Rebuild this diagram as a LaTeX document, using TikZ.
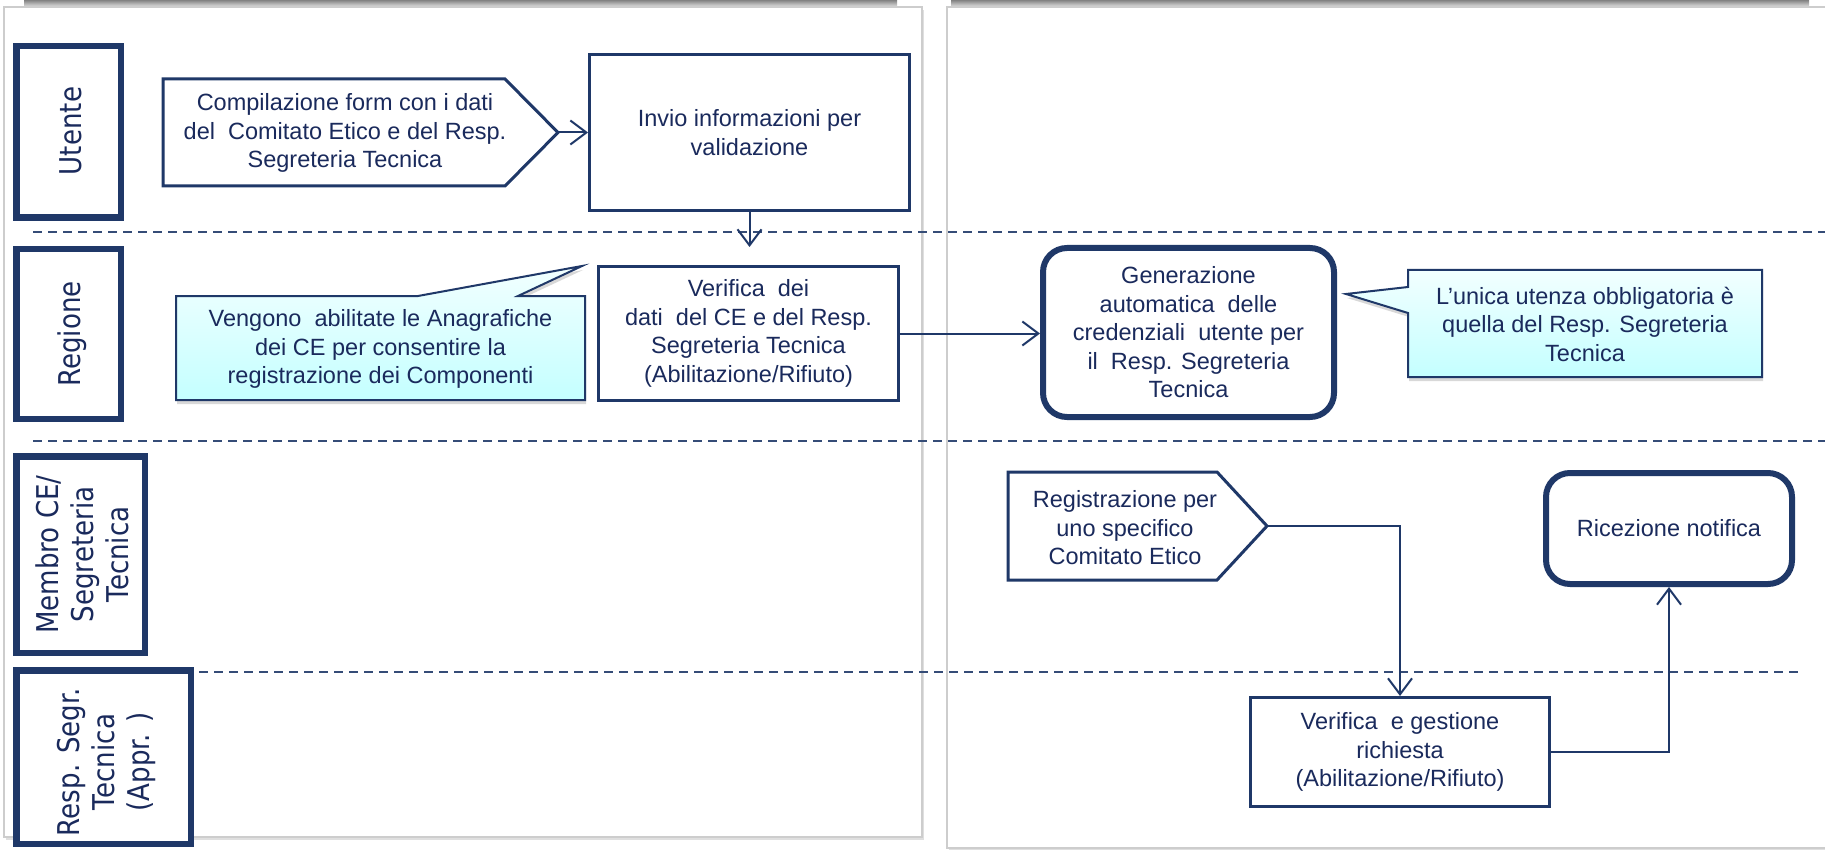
\documentclass[tikz,border=0pt]{standalone}
\usepackage{fontspec}
\setmainfont{Liberation Sans}
\newfontfamily\lanefont{DejaVu Sans}[FakeStretch=0.87]
\usetikzlibrary{arrows.meta,shadows}
\definecolor{navy}{RGB}{31,56,104}
\definecolor{ink}{RGB}{26,42,92}
\definecolor{notetop}{RGB}{242,255,255}
\definecolor{notebot}{RGB}{196,255,255}
\definecolor{panelline}{RGB}{205,205,205}
\begin{document}
\begin{tikzpicture}[x=1pt,y=-1pt,
  panel/.style={fill=white, draw=panelline, line width=1.5pt,
    drop shadow={shadow xshift=2pt, shadow yshift=-3pt, opacity=0.25}},
  topbar/.style={top color=black!60, bottom color=white},
  lanebox/.style={draw=navy, line width=6.5pt, fill=white, inner sep=0pt},
  lanetext/.style={rotate=90, text=ink, inner sep=0pt, align=center,
    font=\lanefont\fontsize{30}{35}\selectfont},
  lanesep/.style={draw=navy!90, line width=2pt, dash pattern=on 9pt off 6pt},
  txt/.style={text=ink, inner sep=0pt, align=center,
    font=\fontsize{23.5}{28.5}\selectfont},
  proc/.style={txt, draw=navy, line width=3pt, fill=white},
  term/.style={txt, draw=navy, line width=6pt, fill=white, rounded corners=24pt},
  shapeline/.style={draw=navy, line width=3pt, fill=white, line join=miter},
  note/.style={top color=notetop, bottom color=notebot, draw=navy, line width=2pt,
    drop shadow={shadow xshift=1pt, shadow yshift=-4pt, opacity=0.3}},
  conn/.style={draw=navy, line width=2pt, -{Straight Barb[length=16pt,width=24pt]}}
]
\useasboundingbox (0,0) rectangle (1825,850);

% two sheets with their shadows
\shade[topbar] (24,-2) rectangle (897,9);
\shade[topbar] (951,-2) rectangle (1809,9);
\draw[panel] (4,7) rectangle (922,837);
\draw[panel] (947,7) rectangle (1845,848);

% lane separators
\draw[lanesep] (33,232) -- (1825,232);
\draw[lanesep] (33,441) -- (1825,441);
\draw[lanesep] (199,672) -- (1803,672);

% lane headers
\node[lanebox, minimum width=104.5pt, minimum height=171.5pt] (utente) at (68.5,132) {};
\node[lanetext] (utente-t) at (70.5,131) {Utente};
\node[lanebox, minimum width=104.5pt, minimum height=169.5pt] (regione) at (68.5,334) {};
\node[lanetext] (regione-t) at (72,334) {Regione};
\node[lanebox, minimum width=128.5pt, minimum height=196.5pt] (membro) at (80.5,554.5) {};
\node[lanetext] (membro-t) at (82,554.5) {Membro CE/\\Segreteria\\Tecnica};
\node[lanebox, minimum width=174.5pt, minimum height=173.5pt] (resp) at (103.5,757) {};
\node[lanetext] (resp-t) at (106,762) {Resp. Segr.\\Tecnica\\(Appr. )};

% Utente lane
\draw[shapeline] (163,79) -- (505,79) -- (558,132.5) -- (505,186) -- (163,186) -- cycle;
\coordinate (comptip) at (558,132.5);
\node[txt] (comp) at (345,133) {Compilazione form con i dati\\del\ \ Comitato Etico e del Resp.\\Segreteria Tecnica};
\node[proc, minimum width=320pt, minimum height=156pt] (invio) at (749.5,132.5) {Invio informazioni per\\validazione};

% Regione lane
\node[proc, minimum width=300pt, minimum height=134pt] (ver1) at (748.5,333.5) {Verifica\ \ dei\\dati\ \ del CE e del Resp.\\Segreteria Tecnica\\(Abilitazione/Rifiuto)};
\shade[note] (176,296) -- (418,296) -- (582,266) -- (518,296) -- (585,296) -- (585,400) -- (176,400) -- cycle;
\node[txt] (note1) at (380.5,349) {Vengono\ \ abilitate le Anagrafiche\\dei CE per consentire la\\registrazione dei Componenti};
\node[term, minimum width=291pt, minimum height=169pt] (gen) at (1188.5,332.5) {Generazione\\automatica\ \ delle\\credenziali\ \ utente per\\il\ \ Resp. Segreteria\\Tecnica};
\shade[note] (1408,270) -- (1762,270) -- (1762,377) -- (1408,377) -- (1408,313) -- (1346,294) -- (1408,287) -- cycle;
\node[txt] (note2) at (1585,324) {L’unica utenza obbligatoria è\\quella del Resp. Segreteria\\Tecnica};

% Membro CE / Segreteria Tecnica lane
\draw[shapeline] (1008,472) -- (1217,472) -- (1267,526) -- (1217,580) -- (1008,580) -- cycle;
\coordinate (regtip) at (1267,526);
\node[txt] (reg) at (1125,528) {Registrazione per\\uno specifico\\Comitato Etico};
\node[term, minimum width=246pt, minimum height=111pt] (ric) at (1669,528.5) {Ricezione notifica};

% Resp. Segr. Tecnica lane
\node[proc, minimum width=299pt, minimum height=109pt] (ver2) at (1400,752) {Verifica\ \ e gestione\\richiesta\\(Abilitazione/Rifiuto)};

% flow
\draw[conn] (comptip) -- (invio.west |- comptip);
\draw[conn, shorten >=18pt] (invio.south) -- (invio.south |- ver1.north);
\draw[conn] (ver1.east) -- (ver1.east -| gen.west);
\draw[conn] (regtip) -| (ver2.north);
\draw[conn] (ver2.east) -| (ric.south);
\end{tikzpicture}
\end{document}
